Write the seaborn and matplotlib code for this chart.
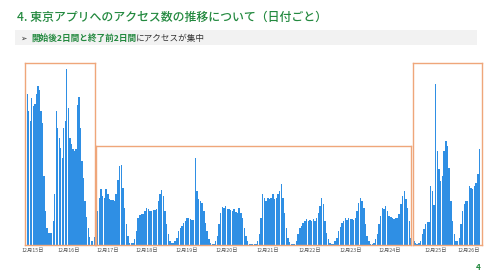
import numpy as np
import matplotlib
matplotlib.use("Agg")
import matplotlib.pyplot as plt
import seaborn as sns
from matplotlib.patches import Rectangle

sns.set_theme(style="white")
plt.rcParams["font.family"] = ["Noto Sans CJK JP", "DejaVu Sans"]

# ---- texts ----
title = "4. 東京アプリへのアクセス数の推移について（日付ごと）"
sub_mark = "➢"
sub_green = "開始後2日間と終了前2日間"
sub_dark = "にアクセスが集中"
page_no = "4"

# ---- hourly access counts (relative), three periods ----
start_vals = [161, 151, 134, 124, 147, 139, 141, 151, 159, 155, 134, 122, 69, 34, 17, 12,
              12, 12, 24, 51, 134, 117, 107, 97, 87, 117, 124, 176, 137, 107, 101, 96,
              94, 96, 140, 148, 117, 84, 67, 44, 28, 17, 8, 4, 4, 8]
middle_vals = [34, 47, 56, 49, 47, 56, 51, 46, 45, 45, 44, 51, 65, 79, 80, 57, 37, 21, 9, 2,
               2, 2, 6, 14, 27, 30, 31, 31, 34, 37, 36, 34, 34, 35, 35, 36, 44, 51, 55, 49,
               34, 21, 11, 4, 2, 2, 4, 7, 14,
               17, 19, 22, 24, 27, 27, 26, 25, 25, 87, 54, 46, 44, 42, 34, 22, 14, 6, 2, 1,
               1, 4, 9, 21, 32, 38, 37, 39, 36, 36, 35, 34, 36, 33, 32, 37, 32, 27, 17, 9,
               4, 1, 1, 1,
               1, 1, 4, 11, 27, 51, 47, 44, 47, 46, 47, 51, 46, 47, 51, 54, 61, 47, 32, 17,
               7, 3, 1, 1, 1, 4, 11, 17, 19, 22, 24, 26, 24, 25, 24, 26, 24, 27, 32, 39,
               47, 41, 24, 12, 6, 2, 1, 1,
               4, 7, 14, 18, 22, 24, 27, 25, 27, 26, 26, 25, 27, 34, 42, 47, 44, 37, 21, 9,
               4, 1, 1, 2, 6, 11, 21, 29, 37, 36, 39, 34, 29, 28, 27, 26, 27, 27, 31, 41,
               49, 54, 46, 37, 24, 7]
end_vals = [4, 2, 1, 2, 4, 11, 16, 21, 23, 23, 59, 54, 40, 161, 94, 76, 64, 69, 94, 104,
            99, 77, 44, 24, 11, 4, 4, 7, 21, 34, 41, 44, 44, 59, 57, 56, 59, 62, 71, 96]

start_ticks = ["12月15日", "12月16日"]
middle_ticks = ["12月17日", "12月18日", "12月19日", "12月20日",
                "12月21日", "12月22日", "12月23日", "12月24日"]
end_ticks = ["12月25日", "12月26日"]

# ---- style ----
GREEN = "#23893f"
BAR = "#2f8fe4"
BOX = "#efa67a"
W, H = 490, 275

fig = plt.figure(figsize=(W / 100, H / 100), dpi=100)
fig.patch.set_facecolor("white")

def px_axes(x0, x1, ytop, ybot):
    return fig.add_axes([x0 / W, 1 - ybot / H, (x1 - x0) / W, (ybot - ytop) / H])

panels = [
    (px_axes(25, 95, 63, 245), start_vals, start_ticks, [4.4, 28.1], (-0.5, 45.5), 182),
    (px_axes(96, 411, 146, 245), middle_vals, middle_ticks,
     [5.8, 29.0, 52.7, 76.5, 100.8, 125.8, 150.1, 173.3], (-1.0, 186.0), 99),
    (px_axes(413, 482, 63, 245), end_vals, end_ticks, [12.9, 32.5], (-0.5, 40.5), 182),
]

for ax, vals, ticks, tpos, xl, ytop in panels:
    sns.barplot(x=np.arange(len(vals)), y=vals, ax=ax, color=BAR, width=0.85,
                saturation=1, edgecolor="none")
    ax.set_xlim(*xl)
    ax.set_ylim(0, ytop)
    ax.set_xticks(tpos)
    ax.set_xticklabels(ticks)
    ax.set_yticks([])
    ax.set_xlabel("")
    ax.set_ylabel("")
    ax.set_facecolor("none")
    ax.tick_params(axis="x", length=0, pad=2.0, labelsize=3.8, labelcolor="#555555")
    for s in ax.spines.values():
        s.set_visible(True)
        s.set_color(BOX)
        s.set_linewidth(1.0)

# ---- header ----
fig.text(17 / W, 1 - 17 / H, title, color=GREEN, fontsize=8.6, fontweight="medium",
         ha="left", va="center")
fig.patches.append(Rectangle((15 / W, 1 - 45 / H), 462 / W, 14.5 / H,
                             transform=fig.transFigure, facecolor="#f2f2f2",
                             edgecolor="none", zorder=0))
fig.text(20 / W, 1 - 38 / H, sub_mark, color="#333333", fontsize=5.5,
         family=["DejaVu Sans"], ha="left", va="center")
t1 = fig.text(31 / W, 1 - 38 / H, sub_green, color=GREEN, fontsize=6.2,
              fontweight="bold", ha="left", va="center")
fig.canvas.draw()
bb = t1.get_window_extent(renderer=fig.canvas.get_renderer())
fig.text(bb.x1 / W, 1 - 38 / H, sub_dark, color="#333333", fontsize=6.2,
         ha="left", va="center")

fig.text(478 / W, 1 - 268 / H, page_no, color=GREEN, fontsize=5.8, fontweight="bold",
         ha="center", va="center")

fig.savefig("out.png", dpi=100)
